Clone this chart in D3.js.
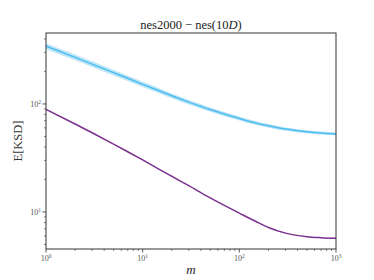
<!DOCTYPE html>
<html><head><meta charset="utf-8">
<script src="https://cdn.jsdelivr.net/npm/d3@7"></script>
<style>body{margin:0;background:#fff}svg{display:block}</style>
</head><body>
<script>
const mVals   = [1,2,3,5,7,10,15,20,30,50,70,100,150,200,300,500,700,1000];
const blueMean= [343,270,234,195,173,152,132,119,104,88.7,80.6,73.4,66.4,62.7,58.5,55.3,53.8,52.8];
const blueLo  = [320.7,253.3,220,183.7,163.3,143.8,125.1,113,99,84.6,77.1,70.3,63.7,60.3,56.4,53.4,52.1,51.2];
const blueHi  = [365.3,286.7,248,206.3,182.7,160.2,138.9,125,109,92.8,84.1,76.5,69.1,65.1,60.6,57.2,55.5,54.4];
const purple  = [89,65.2,54.1,42.5,36.1,30.3,24.7,21.4,17.5,13.5,11.5,9.75,8.11,7.19,6.37,5.90,5.78,5.71];
const xTicks = [1,10,100,1000];
const yTicks = [10,100];
const title = "nes2000 − nes(10";

const W=374,H=280, L=46, R=336, T=33, B=249;
const svg=d3.select("body").append("svg").attr("width",W).attr("height",H);
const x=d3.scaleLog().domain([1,1000]).range([L,R]);
const y=d3.scaleLog().domain([4.54,454]).range([B,T]);

const data=mVals.map((m,i)=>({m,b:blueMean[i],lo:blueLo[i],hi:blueHi[i],p:purple[i]}));
const g=svg.append("g");
g.append("path").datum(data).attr("fill","#b5e2f6").attr("opacity",0.9)
 .attr("d",d3.area().curve(d3.curveMonotoneX).x(d=>x(d.m)).y0(d=>y(d.lo)).y1(d=>y(d.hi)));
g.append("path").datum(data).attr("fill","none").attr("stroke","#4dbdf0").attr("stroke-width",1.5)
 .attr("d",d3.line().curve(d3.curveMonotoneX).x(d=>x(d.m)).y(d=>y(d.b)));
g.append("path").datum(data).attr("fill","none").attr("stroke","#7b2f8f").attr("stroke-width",1.5)
 .attr("d",d3.line().curve(d3.curveMonotoneX).x(d=>x(d.m)).y(d=>y(d.p)));

// minor ticks
const xMinor=[];for(let e=0;e<3;e++)for(let k=2;k<=9;k++)xMinor.push(k*Math.pow(10,e));
const yMinor=[];for(let e=0;e<3;e++)for(let k=2;k<=9;k++){const v=k*Math.pow(10,e);if(v>=4.54&&v<=454)yMinor.push(v);}
const ax=svg.append("g").attr("stroke","#333");
xMinor.forEach(v=>ax.append("line").attr("x1",x(v)).attr("x2",x(v)).attr("y1",B).attr("y2",B+2).attr("stroke-width",0.6));
xTicks.forEach(v=>ax.append("line").attr("x1",x(v)).attr("x2",x(v)).attr("y1",B).attr("y2",B+3.5).attr("stroke-width",0.8));
yMinor.forEach(v=>ax.append("line").attr("y1",y(v)).attr("y2",y(v)).attr("x1",L).attr("x2",L-2).attr("stroke-width",0.6));
yTicks.forEach(v=>ax.append("line").attr("y1",y(v)).attr("y2",y(v)).attr("x1",L).attr("x2",L-3.5).attr("stroke-width",0.8));
svg.append("rect").attr("x",L).attr("y",T).attr("width",R-L).attr("height",B-T)
 .attr("fill","none").attr("stroke","#333").attr("stroke-width",1);

const serif="'Liberation Serif','DejaVu Serif',serif";
function pow10(sel,e){sel.append("tspan").text("10");sel.append("tspan").attr("dy",-3).attr("font-size",5.5).text(e);}
xTicks.forEach(v=>{const t=svg.append("text").attr("x",x(v)).attr("y",B+12).attr("text-anchor","middle")
 .attr("font-family",serif).attr("font-size",8).attr("fill","#555");pow10(t,Math.round(Math.log10(v)));});
yTicks.forEach(v=>{const t=svg.append("text").attr("x",L-5).attr("y",y(v)+3).attr("text-anchor","end")
 .attr("font-family",serif).attr("font-size",8).attr("fill","#555");pow10(t,Math.round(Math.log10(v)));});

const tt=svg.append("text").attr("x",(L+R)/2).attr("y",29).attr("text-anchor","middle")
 .attr("font-family",serif).attr("font-size",12.5).attr("fill","#222");
tt.append("tspan").text(title);tt.append("tspan").attr("font-style","italic").text("D");tt.append("tspan").text(")");
svg.append("text").attr("x",(L+R)/2).attr("y",274).attr("text-anchor","middle")
 .attr("font-family",serif).attr("font-style","italic").attr("font-size",13).attr("fill","#222").text("m");
svg.append("text").attr("transform",`translate(22,${(T+B)/2}) rotate(-90)`).attr("text-anchor","middle")
 .attr("font-family",serif).attr("font-size",12.5).attr("fill","#333").text("E[KSD]");
</script>
</body></html>
